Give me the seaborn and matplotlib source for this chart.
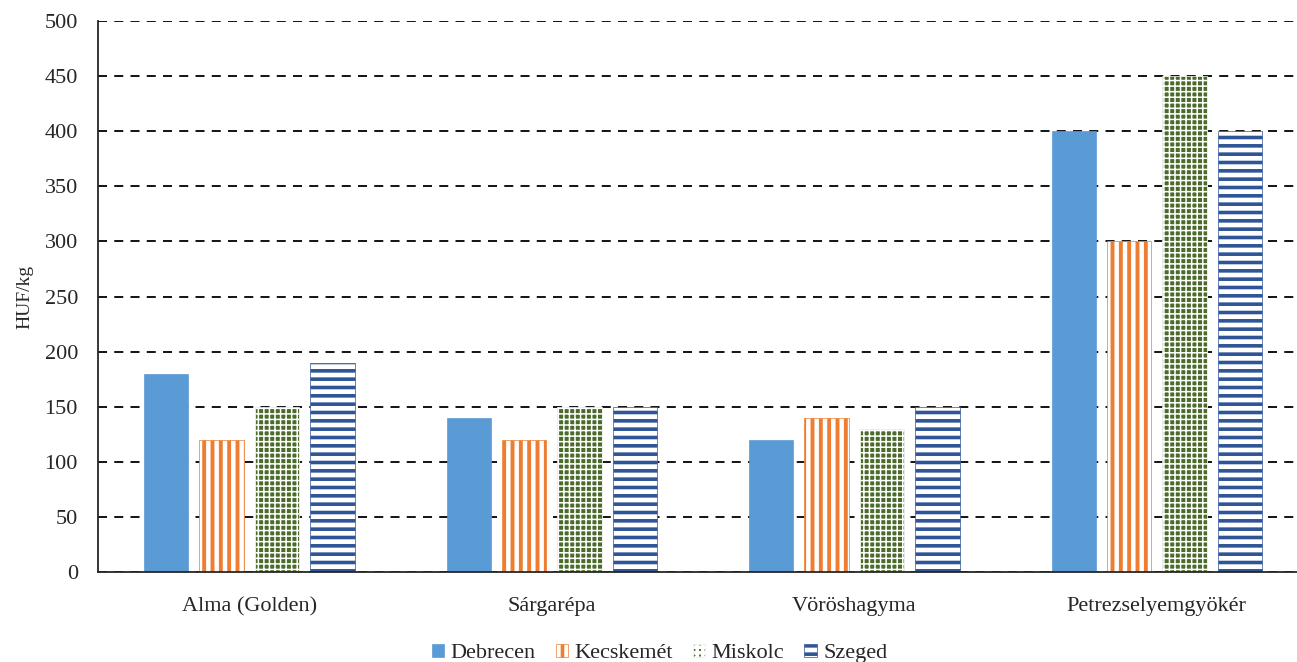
import pandas as pd
import seaborn as sns
import matplotlib.pyplot as plt
import matplotlib.patches as mpatches

# Values (HUF/kg)
categories = ["Alma (Golden)", "Sárgarépa", "Vöröshagyma", "Petrezselyemgyökér"]
cities = ["Debrecen", "Kecskemét", "Miskolc", "Szeged"]
debrecen = [180, 140, 120, 400]
kecskemet = [120, 120, 140, 300]
miskolc = [150, 150, 130, 450]
szeged = [190, 150, 150, 400]

face_colors = ["#5B9BD5", "white", "#4A6B2A", "white"]
edge_colors = ["#5B9BD5", "#ED7D31", "white", "#2F5597"]
hatches = [None, "||", "+++", "--"]
hatch_widths = [1, 2.8, 1.1, 2.6]

df = pd.DataFrame({
    "termék": categories * 4,
    "város": [c for c in cities for _ in categories],
    "ár": debrecen + kecskemet + miskolc + szeged,
})

sns.set_style("white")
plt.rcParams["font.family"] = ["Liberation Serif", "DejaVu Serif"]
plt.rcParams["hatch.linewidth"] = 2.6


def style_patch(p, fc, ec, h, hw):
    p.set_facecolor(fc)
    p.set_edgecolor(ec)
    p.set_linewidth(0.5)
    if h:
        p.set_hatch(h)
        if hasattr(p, "set_hatch_linewidth"):
            p.set_hatch_linewidth(hw)


fig, ax = plt.subplots(figsize=(12.97, 6.62), dpi=100)
sns.barplot(data=df, x="termék", y="ár", hue="város", order=categories,
            hue_order=cities, width=0.732, gap=0.197, ax=ax, legend=False,
            palette=face_colors, saturation=1)

for cont, fc, ec, h, hw in zip(ax.containers, face_colors, edge_colors, hatches, hatch_widths):
    for bar in cont:
        style_patch(bar, fc, ec, h, hw)

ax.set_ylim(0, 500)
ax.set_yticks(range(0, 501, 50))
ax.set_xlim(-0.5, 3.5)
ax.yaxis.grid(True, linestyle=(0, (5, 4)), color="black", linewidth=1.3)
ax.set_axisbelow(True)
for s in ["top", "right"]:
    ax.spines[s].set_visible(False)
ax.spines["left"].set_linewidth(1.3)
ax.spines["bottom"].set_linewidth(1.3)
ax.tick_params(axis="y", direction="inout", length=13, width=1.3, labelsize=16, pad=8)
ax.tick_params(axis="x", which="major", length=0, labelsize=16, pad=18)
ax.set_xticks([0.5, 1.5, 2.5], minor=True)
ax.tick_params(axis="x", which="minor", direction="out", length=6, width=1.3)
ax.set_xlabel("")
ax.set_ylabel("HUF/kg", fontsize=14, labelpad=8)

handles = []
for c, fc, ec, h, hw in zip(cities, face_colors, edge_colors, hatches, hatch_widths):
    p = mpatches.Patch(label=c)
    style_patch(p, fc, ec, h, hw)
    handles.append(p)
fig.legend(handles=handles, loc="center", bbox_to_anchor=(0.5085, 0.013),
           ncol=4, frameon=False, fontsize=16, handlelength=0.55,
           handleheight=0.55, handletextpad=0.3, columnspacing=0.9)

plt.subplots_adjust(left=0.0756, right=1.0085, top=0.968, bottom=0.136)
plt.savefig("out.png", dpi=100)
